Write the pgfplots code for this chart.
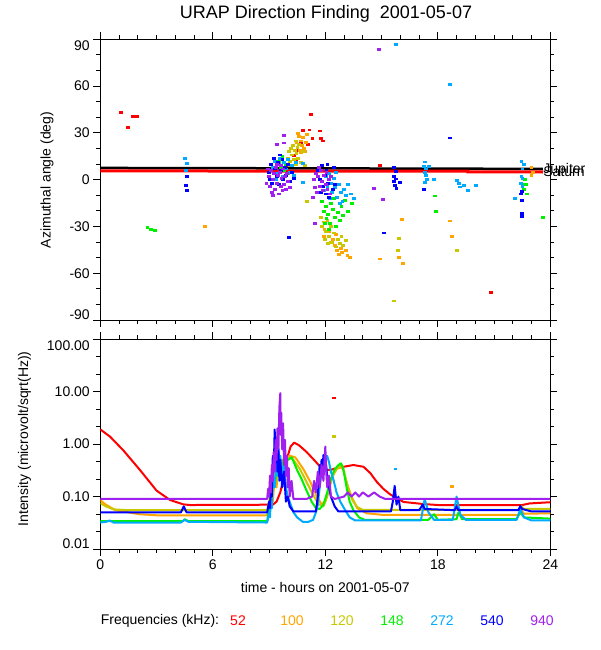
\documentclass[border=0pt]{standalone}
\usepackage{pgfplots}
\pgfplotsset{compat=1.18}
\usepackage{fontspec}
\setmainfont{Liberation Sans}
\definecolor{cA}{RGB}{255,0,0}
\definecolor{cB}{RGB}{255,165,0}
\definecolor{cC}{RGB}{200,200,0}
\definecolor{cD}{RGB}{0,240,0}
\definecolor{cE}{RGB}{0,170,255}
\definecolor{cF}{RGB}{0,0,255}
\definecolor{cG}{RGB}{160,32,240}
\pgfplotsset{
  panel/.style={
    scale only axis, width=450pt,
    xmin=0, xmax=24, xtick={0,6,12,18,24}, minor xtick={1,2,3,4,5,7,8,9,10,11,13,14,15,16,17,19,20,21,22,23},
    tick align=outside, major tick length=7pt, minor tick length=4pt,
    axis line style={line width=0.9pt},
    every tick/.style={black, line width=0.9pt},
    tick label style={font=\fontsize{14}{16}\selectfont},
  },
  pts/.style={only marks, mark=square*, mark size=0.95pt, color=#1, mark options={draw=none, xscale=1.5}},
  crv/.style={color=#1, line width=2pt, line join=round},
}
\begin{document}
\begin{tikzpicture}[x=1pt,y=1pt]
\useasboundingbox (0,0) rectangle (600,650);
% ---------------- top panel
\begin{axis}[panel, at={(100.3pt,330pt)}, anchor=south west, height=280.7pt,
  ymin=-90, ymax=90, ytick={-90,-60,-30,0,30,60,90},
  yticklabels={\raisebox{5pt}[\height][\depth]{-90},-60,-30,0,30,60,\raisebox{-6pt}[\height][\depth]{90}},
  minor ytick={-80,-70,-50,-40,-20,-10,10,20,40,50,70,80},
  xticklabels={}, clip=false]
\addplot[color=black, line width=2.5pt] coordinates {(0,7.5) (8.5,7.3) (23.6,6.9)};
\addplot[color=cA, line width=3pt] coordinates {(0,5.6) (19.6,5.4) (19.6,5.0) (23.6,4.9)};
\addplot[pts=cA] coordinates {(1.1,43.3) (1.48,33.6) (1.74,40.7) (1.96,40.7)
 (10.3,15.8) (10.57,18.6) (10.7,24) (11.05,23) (11.14,32) (10.8,31.6) (11.2,42) (11.3,26.3) (11.7,31.4) (11.77,26.5) (11.87,25) (10.4,12) (9.9,9) (10.0,14)
 (14.9,9.2) (20.82,-72.4)};
\addplot[pts=cB] coordinates {(5.58,-30)
 (10.55,30) (10.6,28) (10.7,25) (10.75,22) (10.85,20) (10.9,18) (11.0,29.3) (10.65,19) (10.8,27) (10.45,24) (10.5,21) (10.95,24) (10.7,17.5)
 (11.94,-31.5) (12.57,-35) (12.87,-46.5) (13.17,-48.7) (11.9,-36.4) (12.2,-33) (12.4,-38) (12.5,-42) (12.6,-45) (12.7,-48) (13.1,-45) (12.3,-40) (13.3,-50) (12.8,-44)
 (16.07,-25.2) (14.9,-50.7) (16.15,-53.4) (15.9,-49.6) (18.63,-26.3) (18.76,-36.3) (22.98,7.9) (22.98,2.7) (23.05,5)};
\addplot[pts=cC] coordinates {(9.95,10) (10.0,14) (10.05,18) (10.1,12) (10.15,20) (10.2,16) (10.25,22) (10.3,13) (10.35,19) (10.4,25) (10.45,17) (10.5,21) (10.55,14) (10.6,23) (10.7,11) (10.8,18) (10.9,9) (9.8,8) (10.1,9) (10.4,10)
 (11.0,-13.9)
 (11.75,-24) (11.8,-30) (11.9,-27) (12.0,-33) (12.1,-26) (12.2,-36) (12.3,-30) (12.35,-40) (12.45,-34) (12.55,-43) (12.65,-38) (12.75,-41) (12.85,-36) (12.95,-42) (13.1,-39) (12.15,-41) (11.95,-38)
 (15.9,-37.4) (15.86,-45.5) (15.64,-77.6) (18.99,-45.3)};
\addplot[pts=cD] coordinates {(2.5,-30.7) (2.92,-32.6) (2.7,-31.5)
 (9.5,12) (9.6,8) (9.7,15) (9.8,6) (9.9,10) (10.0,4) (9.45,3)
 (11.8,-14) (11.9,-20) (12.0,-17) (12.05,-25) (12.15,-22) (12.25,-28) (12.3,-15) (12.4,-19) (12.5,-24) (12.55,-30) (12.65,-21) (12.75,-26) (12.85,-17) (12.95,-23) (13.05,-13) (13.2,-20) (13.4,-15) (12.2,-32) (12.45,-12) (11.95,-28)
 (17.85,-10.3) (17.87,-20.3) (22.65,0) (22.7,-3) (22.6,-6) (22.75,-9) (22.55,-3) (23.58,-24)};
\addplot[pts=cE] coordinates {(4.5,13.7) (4.6,10.4) (4.55,6)
 (9.2,8) (9.3,12) (9.4,4) (9.5,10) (9.55,14) (9.65,6) (9.7,2) (9.8,11) (9.9,7) (10.0,13) (10.1,5) (10.2,9) (10.3,3) (10.4,11) (9.35,0) (10.8,10.6) (10.8,-1.5)
 (12.0,2) (12.1,-4) (12.2,4) (12.3,-2) (12.35,-8) (12.45,1) (12.5,-5) (12.6,-11) (12.7,-3) (12.8,-8) (12.9,-14) (13.0,-6) (13.1,-10) (13.2,-3) (13.35,-9) (13.5,-12) (12.55,5) (12.25,-12) (12.75,-15) (11.9,-7)
 (17.3,11.5) (17.25,8.5) (17.35,7) (17.5,8.5) (17.3,5) (17.35,3) (17.4,0.5) (17.3,-1.5) (17.8,0)
 (19.0,-0.4) (19.1,-2.5) (19.15,-4.5) (19.4,-3.4) (19.6,-6.6) (20.0,-3.5)
 (22.45,12) (22.6,10) (22.5,7) (22.45,2) (22.5,1) (22.4,-2) (22.5,-4) (22.1,-11.8)
 (15.75,86.7) (18.63,61.3)};
\addplot[pts=cF] coordinates {(4.6,2) (4.55,-3.7) (4.6,-6.9)
 (9.0,5) (9.1,10) (9.15,-2) (9.25,14) (9.3,7) (9.4,2) (9.45,11) (9.5,-3) (9.6,6) (9.7,13) (9.75,0) (9.85,8) (9.9,3) (10.0,10) (10.1,-1) (10.2,5) (10.3,1) (9.05,0) (9.55,16)
 (11.6,6) (11.7,0) (11.8,9) (11.85,-4) (11.95,3) (12.0,-9) (12.05,6) (12.15,-2) (12.2,-11) (12.3,2) (12.4,-6) (12.45,8) (12.5,-3) (11.75,-8) (12.1,10)
 (10.07,-36.7) (15.1,-34) (18.63,26.9) (17.25,-6.2)
 (15.63,7.7) (15.75,5.3) (15.65,2.3) (15.75,0.6) (15.65,-0.9) (15.95,-1.9) (15.7,-3.7) (15.78,-5.4)
 (22.46,-7.5) (22.46,-13.3) (22.46,-21.6) (22.46,-23.5) (22.42,-9)};
\addplot[pts=cG] coordinates {(9.0,2) (9.05,-4) (9.1,6) (9.15,-8) (9.2,0) (9.25,4) (9.3,-6) (9.35,8) (9.4,-2) (9.45,3) (9.5,-9) (9.55,5) (9.6,-4) (9.65,1) (9.7,-7) (9.75,7) (9.8,-3) (9.85,2) (9.9,-6) (9.95,4) (10.0,-1) (10.1,-5) (9.2,-10) (9.6,9) (8.95,7) (9.4,10) (8.85,-2)
 (9.8,28.3) (9.4,23) (9.8,23.7)
 (11.4,0) (11.45,-5) (11.5,4) (11.55,-8) (11.6,2) (11.7,-4) (11.75,6) (11.8,-1) (11.85,-7) (11.9,3) (12.0,-3) (12.05,5) (12.1,-6) (12.2,0) (12.25,-9) (12.3,2) (11.65,8)
 (11.34,-11.3) (11.45,-28.2) (14.6,-5.4) (15.06,-12.4) (14.86,83.5)};
\node[anchor=west, inner sep=0pt, font=\fontsize{14}{16}\selectfont] at (axis cs:23.62,5.4) {Saturn};
\node[anchor=west, inner sep=0pt, font=\fontsize{14}{16}\selectfont] at (axis cs:23.62,6.4) {Jupiter};
\end{axis}
% ---------------- bottom panel
\begin{axis}[panel, at={(100.3pt,101pt)}, anchor=south west, height=209.7pt,
  ymode=log, ymin=0.01, ymax=100, ytick={0.01,0.1,1,10,100},
  yticklabels={\raisebox{5pt}[\height][\depth]{0.01},0.10,1.00,10.00,\raisebox{-6pt}[\height][\depth]{100.00}},
  minor ytick={0.0215,0.0464,0.215,0.464,2.15,4.64,21.5,46.4},
  xticklabels={0,6,12,18,24}]
\addplot[crv=cA] coordinates {(0,1.91) (0.52,1.39) (1.23,0.76) (2.12,0.32) (3.0,0.13) (3.72,0.086) (4.43,0.071) (4.79,0.069) (9.2,0.07) (9.4,0.08) (9.6,0.12) (9.8,0.25) (10.0,0.6) (10.15,0.9) (10.34,1.07) (10.6,0.95) (11.0,0.71) (11.4,0.5) (11.73,0.37) (12.0,0.33) (12.26,0.32) (12.6,0.35) (12.97,0.37) (13.5,0.40) (14.04,0.37) (14.4,0.28) (14.75,0.19) (15.1,0.14) (15.46,0.11) (16.17,0.079) (17.24,0.072) (18,0.069) (22.5,0.069) (22.9,0.074) (24,0.078)};
\addplot[crv=cB] coordinates {(0,0.085) (0.3,0.07) (0.8,0.055) (1.5,0.05) (2.1,0.046) (3,0.044) (8.9,0.044) (9.0,0.07) (9.1,0.12) (9.2,0.08) (9.3,0.25) (9.4,0.15) (9.5,0.4) (9.6,0.25) (9.7,0.5) (9.8,0.35) (9.9,0.55) (10.1,0.6) (10.4,0.56) (10.84,0.33) (11.2,0.19) (11.55,0.1) (11.8,0.072) (12.0,0.08) (12.2,0.14) (12.4,0.25) (12.6,0.33) (12.8,0.37) (12.95,0.33) (13.15,0.18) (13.4,0.1) (13.7,0.06) (14.2,0.048) (15,0.045) (22.3,0.045) (22.45,0.055) (22.6,0.047) (24,0.048)};
\addplot[crv=cC] coordinates {(0,0.075) (0.3,0.065) (0.7,0.057) (1.5,0.055) (8.9,0.055) (9.0,0.08) (9.1,0.15) (9.2,0.1) (9.3,0.3) (9.4,0.2) (9.5,0.45) (9.6,0.3) (9.7,0.5) (9.8,0.4) (9.9,0.55) (10.1,0.55) (10.3,0.5) (10.66,0.33) (11.0,0.19) (11.37,0.105) (11.64,0.072) (11.9,0.065) (12.1,0.1) (12.3,0.2) (12.5,0.3) (12.7,0.37) (12.88,0.4) (13.0,0.3) (13.2,0.15) (13.45,0.085) (13.7,0.063) (14.0,0.056) (22.3,0.056) (22.45,0.065) (22.6,0.058) (24,0.058)};
\addplot[crv=cD] coordinates {(0,0.034) (4.4,0.034) (4.5,0.037) (4.7,0.034) (8.9,0.034) (9.0,0.06) (9.1,0.1) (9.2,0.25) (9.3,0.15) (9.4,0.4) (9.5,0.3) (9.6,0.5) (9.7,0.35) (9.8,0.55) (9.9,0.45) (10.0,0.5) (10.21,0.56) (10.48,0.33) (10.75,0.21) (11.0,0.13) (11.28,0.079) (11.5,0.06) (11.7,0.058) (11.9,0.07) (12.1,0.12) (12.3,0.22) (12.5,0.33) (12.7,0.4) (12.83,0.43) (12.95,0.35) (13.15,0.14) (13.3,0.08) (13.5,0.055) (13.8,0.04) (14.1,0.036) (17.5,0.036) (17.8,0.046) (18.0,0.036) (19.0,0.037) (19.1,0.05) (19.3,0.037) (22.2,0.037) (22.4,0.05) (22.6,0.04) (24,0.038)};
\addplot[crv=cE] coordinates {(0,0.032) (0.3,0.033) (0.5,0.035) (0.7,0.032) (4.3,0.032) (4.5,0.036) (4.7,0.033) (8.9,0.032) (9.0,0.05) (9.05,0.04) (9.1,0.1) (9.15,0.06) (9.2,0.25) (9.3,0.15) (9.4,0.5) (9.45,0.25) (9.5,0.9) (9.55,0.35) (9.6,0.6) (9.7,0.25) (9.8,0.4) (9.9,0.15) (10.0,0.1) (10.1,0.08) (10.3,0.05) (10.5,0.04) (10.8,0.033) (11.1,0.033) (11.35,0.036) (11.5,0.05) (11.6,0.07) (11.7,0.15) (11.8,0.3) (11.9,0.5) (12.0,0.55) (12.1,0.6) (12.2,0.45) (12.3,0.3) (12.45,0.2) (12.6,0.12) (12.8,0.08) (13.0,0.06) (13.3,0.04) (13.6,0.035) (17.1,0.035) (17.3,0.09) (17.5,0.05) (17.8,0.036) (18.8,0.036) (19.0,0.1) (19.2,0.045) (19.5,0.036) (22.2,0.036) (22.4,0.057) (22.6,0.04) (23.0,0.035) (24,0.035)};
\addplot[crv=cF] coordinates {(0,0.05) (4.3,0.05) (4.45,0.065) (4.6,0.05) (8.9,0.05) (9.0,0.08) (9.05,0.06) (9.1,0.2) (9.15,0.1) (9.2,0.6) (9.25,0.3) (9.3,1.9) (9.35,0.5) (9.4,1.2) (9.45,0.3) (9.5,0.8) (9.55,0.2) (9.6,0.5) (9.7,0.15) (9.8,0.3) (9.9,0.08) (10.0,0.1) (10.1,0.065) (10.3,0.052) (11.5,0.052) (11.6,0.1) (11.65,0.2) (11.7,0.4) (11.75,0.25) (11.8,0.5) (11.85,0.3) (11.9,0.62) (11.95,0.35) (12.0,0.55) (12.1,0.25) (12.2,0.15) (12.3,0.1) (12.5,0.065) (12.7,0.052) (15.5,0.052) (15.6,0.08) (15.7,0.16) (15.8,0.07) (15.9,0.1) (16.0,0.055) (17.0,0.055) (17.2,0.07) (17.3,0.058) (18.9,0.055) (19.0,0.064) (19.1,0.055) (22.3,0.055) (22.4,0.066) (22.5,0.058) (23,0.052) (24,0.052)};
\addplot[crv=cG] coordinates {(0,0.09) (8.9,0.09) (8.95,0.14) (9.0,0.1) (9.05,0.25) (9.1,0.12) (9.15,0.4) (9.2,0.2) (9.25,0.7) (9.3,0.3) (9.35,1.2) (9.4,0.5) (9.45,2.0) (9.5,0.8) (9.55,5) (9.6,9.4) (9.62,1.5) (9.65,4) (9.7,0.8) (9.75,2.5) (9.8,0.4) (9.85,1.2) (9.9,0.25) (9.95,0.6) (10.0,0.15) (10.05,0.35) (10.1,0.1) (10.2,0.2) (10.3,0.09) (11.0,0.09) (11.3,0.1) (11.4,0.2) (11.5,0.12) (11.6,0.3) (11.7,0.15) (11.8,0.4) (11.9,0.2) (12.0,0.9) (12.05,0.3) (12.1,0.15) (12.2,0.25) (12.3,0.1) (12.5,0.09) (13.0,0.1) (13.2,0.12) (13.4,0.1) (13.6,0.12) (13.8,0.1) (14.0,0.12) (14.3,0.1) (14.6,0.12) (14.9,0.1) (15.2,0.09) (24,0.09)};
\addplot[pts=cA] coordinates {(12.46,7.7)};
\addplot[pts=cC] coordinates {(12.44,1.41)};
\addplot[pts=cB] coordinates {(18.75,0.155)};
\addplot[pts=cE] coordinates {(15.73,0.34)};
\end{axis}
% ---------------- texts
\node[font=\fontsize{18}{20}\selectfont] at (326,636) {URAP Direction Finding\ \ 2001-05-07};
\node[rotate=90, font=\fontsize{14}{16}\selectfont] at (47,470) {Azimuthal angle (deg)};
\node[rotate=90, font=\fontsize{14}{16}\selectfont] at (24.5,211) {Intensity (microvolt/sqrt(Hz))};
\node[font=\fontsize{14}{16}\selectfont] at (325.3,62.5) {time - hours on 2001-05-07};
\begin{scope}[font=\fontsize{14}{16}\selectfont]
\node[anchor=west, inner sep=0pt] at (100.7,29.5) {Frequencies (kHz):};
\node[text=cA] at (238,29.5) {52};
\node[text=cB] at (292,29.5) {100};
\node[text=cC] at (342,29.5) {120};
\node[text=cD] at (392,29.5) {148};
\node[text=cE] at (442,29.5) {272};
\node[text=cF] at (492,29.5) {540};
\node[text=cG] at (542,29.5) {940};
\end{scope}
\end{tikzpicture}
\end{document}
